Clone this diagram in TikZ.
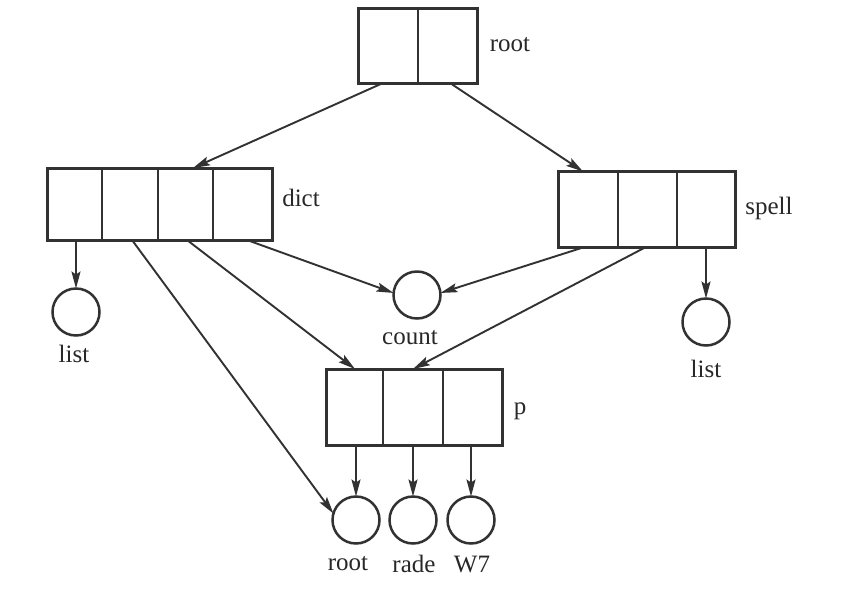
\documentclass[tikz,border=0pt]{standalone}
\usepackage{fontspec}
\setmainfont{Liberation Serif}
\usetikzlibrary{arrows.meta,calc}
\definecolor{ink}{RGB}{50,50,50}
\definecolor{txt}{RGB}{40,40,40}
\begin{document}
\begin{tikzpicture}[x=1pt,y=-1pt,
  box/.style={draw=ink,line width=3pt,inner sep=0pt,outer sep=0pt},
  div/.style={draw=ink,line width=2pt},
  circ/.style={circle,draw=ink,line width=2.5pt,minimum size=47pt,inner sep=0pt,outer sep=0pt},
  lbl/.style={font=\fontsize{25}{25}\selectfont,text=txt,inner sep=0pt},
  arr/.style={draw=ink,line width=1.9pt,-{Stealth[length=17pt,width=9pt,inset=3pt]}}]
\fill[white] (0,0) rectangle (848,606);
\useasboundingbox (0,0) rectangle (848,606);
% boxes
\node[box,minimum width=119pt,minimum height=75pt] (root) at (417.5,45.5) {};
\node[box,minimum width=225pt,minimum height=72pt] (dict) at (159.5,204) {};
\node[box,minimum width=177pt,minimum height=76pt] (spell) at (646.5,209.5) {};
\node[box,minimum width=176pt,minimum height=76pt] (p) at (414,407) {};
% dividers
\draw[div] (root.north) -- (root.south);
\foreach \f in {0.245,0.493,0.738}
  \draw[div] ($(dict.north west)!\f!(dict.north east)$) -- ($(dict.south west)!\f!(dict.south east)$);
\foreach \f in {0.339,0.672}
  \draw[div] ($(spell.north west)!\f!(spell.north east)$) -- ($(spell.south west)!\f!(spell.south east)$);
\foreach \f in {0.324,0.665}
  \draw[div] ($(p.north west)!\f!(p.north east)$) -- ($(p.south west)!\f!(p.south east)$);
% circles
\node[circ] (l1) at (76,312) {};
\node[circ] (count) at (417,295) {};
\node[circ] (l2) at (706,322) {};
\node[circ] (c1) at (356,520) {};
\node[circ] (c2) at (413,520) {};
\node[circ] (c3) at (471,520) {};
% labels
\node[lbl] (troot) at (510,45) {root};
\node[lbl] (tdict) at (301,198) {dict};
\node[lbl] (tspell) at (769,208) {spell};
\node[lbl] (tp) at (520,411) {p};
\node[lbl] (tl1) at (74,354) {list};
\node[lbl] (tcount) at (410,338) {count};
\node[lbl] (tl2) at (706,369) {list};
\node[lbl] (tc1) at (348,564) {root};
\node[lbl] (tc2) at (414,564) {rade};
\node[lbl] (tc3) at (472,564) {W7};
% connectors
\draw[arr] ([xshift=25pt]root.south west) -- ([xshift=146pt]dict.north west);
\draw[arr] ([xshift=92pt]root.south west) -- ([xshift=25pt]spell.north west);
\draw[arr] ([xshift=29pt]dict.south west) -- (l1.north);
\draw[arr] ([xshift=85pt]dict.south west) -- (c1.164);
\draw[arr] ([xshift=140pt]dict.south west) -- ([xshift=29pt]p.north west);
\draw[arr] ([xshift=200pt]dict.south west) -- (count.175);
\draw[arr] ([xshift=25pt]spell.south west) -- (count.5);
\draw[arr] ([xshift=87pt]spell.south west) -- ([xshift=87pt]p.north west);
\draw[arr] ([xshift=148pt]spell.south west) -- (l2.north);
\draw[arr] ([xshift=30pt]p.south west) -- (c1.north);
\draw[arr] ([xshift=87pt]p.south west) -- (c2.north);
\draw[arr] ([xshift=145pt]p.south west) -- (c3.north);
\end{tikzpicture}
\end{document}
